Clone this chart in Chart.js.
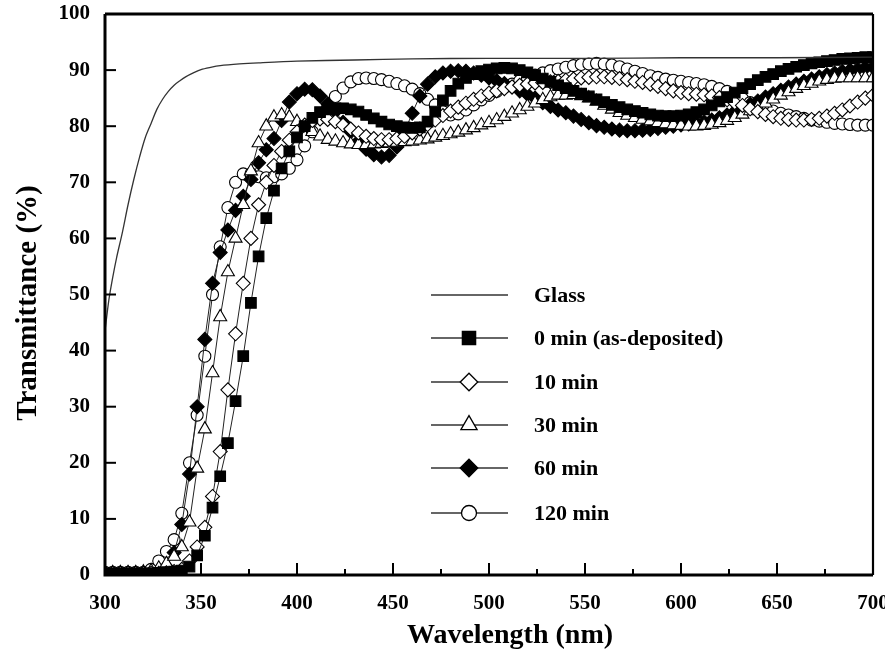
<!DOCTYPE html>
<html><head><meta charset="utf-8">
<script src="https://cdn.jsdelivr.net/npm/chart.js@4.4.1/dist/chart.umd.min.js"></script>
<style>html,body{margin:0;padding:0;background:#fff;overflow:hidden}#wrap{width:885px;height:657px}</style>
</head><body><div id="wrap"><canvas id="c" width="885" height="657"></canvas></div>
<script>
// ---------- data ----------
const seriesLabels = ['Glass', '0 min (as-deposited)', '10 min', '30 min', '60 min', '120 min'];
const xTickValues = [300, 350, 400, 450, 500, 550, 600, 650, 700];
const yTickValues = [0, 10, 20, 30, 40, 50, 60, 70, 80, 90, 100];

const glassWavelengths = [300,302,304,306,309,312,315,318,321,324,327,330,333,336,339,342,346,350,355,360,370,380,400,430,460,500,550,600,650,700];
const glassT = [43.5,49,53,56.5,61,66,70.5,74.5,78,80.5,83,84.8,86.2,87.3,88.1,88.8,89.5,90.1,90.5,90.8,91.1,91.3,91.6,91.8,92,92.1,92.1,92.2,92.2,92.3];

const wavelengths = [300,304,308,312,316,320,324,328,332,336,340,344,348,352,356,360,364,368,372,376,380,384,388,392,396,400,404,408,412,416,420,424,428,432,436,440,444,448,452,456,460,464,468,472,476,480,484,488,492,496,500,504,508,512,516,520,524,528,532,536,540,544,548,552,556,560,564,568,572,576,580,584,588,592,596,600,604,608,612,616,620,624,628,632,636,640,644,648,652,656,660,664,668,672,676,680,684,688,692,696,700];

const t0min = [0.3,0.3,0.3,0.3,0.3,0.3,0.3,0.4,0.5,0.6,
  0.8,1.5,3.5,7,12,17.6,23.5,31,39,48.5,
  56.8,63.6,68.5,72.5,75.5,78,80,81.5,82.5,83,
  83.2,83.2,83,82.6,82,81.4,80.8,80.3,80,79.8,
  79.7,79.8,80.8,82.6,84.6,86.3,87.6,88.6,89.3,89.8,
  90.1,90.3,90.4,90.3,90,89.6,89.1,88.5,87.9,87.3,
  86.8,86.3,85.8,85.3,84.8,84.3,83.8,83.4,83,82.7,
  82.4,82.1,81.9,81.8,81.8,81.9,82.1,82.5,83,83.7,
  84.4,85.2,86,86.8,87.5,88.2,88.8,89.3,89.8,90.2,
  90.6,90.9,91.2,91.4,91.6,91.8,92,92.1,92.2,92.3,
  92.3];
const t10min = [0.3,0.3,0.3,0.3,0.3,0.3,0.3,0.3,0.4,0.6,
  1,2.5,5,8.5,14,22,33,43,52,60,
  66,70,73,75.5,77.5,79,80.2,81,81.3,81.2,
  80.8,80.2,79.5,78.8,78.2,77.8,77.6,77.6,77.8,78.2,
  78.8,79.5,80.3,81.1,81.9,82.7,83.4,84.1,84.8,85.4,
  85.9,86.3,86.7,87,87.3,87.5,87.7,87.8,87.9,88,
  88.2,88.4,88.6,88.7,88.8,88.8,88.7,88.5,88.3,88,
  87.8,87.5,87.1,86.7,86.3,86,85.8,85.7,85.6,85.4,
  85.1,84.7,84.2,83.7,83.1,82.6,82.1,81.7,81.4,81.2,
  81.1,81.1,81.2,81.4,81.8,82.3,82.9,83.6,84.3,85,
  85.5];
const t30min = [0.4,0.4,0.4,0.4,0.4,0.5,0.7,1.2,2,3.3,
  5,9.4,19,26,36,46,54,60,66,72,
  77,80,81.6,82,81.6,80.8,79.9,79,78.2,77.6,
  77.3,77,76.8,76.7,76.7,76.8,76.9,77,77.1,77.2,
  77.3,77.5,77.7,78,78.3,78.6,78.9,79.3,79.7,80.2,
  80.6,81.1,81.7,82.3,82.9,83.5,84.1,84.7,85.2,85.5,
  85.5,85.6,85.4,85,84.4,83.7,83,82.4,81.9,81.5,
  81.2,80.9,80.6,80.4,80.2,80.1,80,80,80.1,80.3,
  80.6,81,81.5,82.1,82.7,83.4,84.1,84.8,85.5,86.1,
  86.7,87.2,87.6,88,88.3,88.5,88.6,88.6,88.6,88.6,
  88.6];
const t60min = [0.3,0.3,0.3,0.3,0.3,0.3,0.4,0.6,1.5,4,
  9,18,30,42,52,57.5,61.5,65,67.5,70.5,
  73.5,75.8,77.8,81,84.3,85.8,86.6,86.5,85.4,84,
  82.6,80.7,79,77.3,75.9,74.9,74.5,74.8,76.3,79,
  82.3,85.4,87.5,88.8,89.5,89.8,89.9,89.8,89.5,89.1,
  88.6,88.1,87.6,87,86.3,85.7,85,84.2,83.5,82.9,
  82.4,81.8,81.2,80.6,80.1,79.8,79.5,79.3,79.2,79.2,
  79.3,79.4,79.6,79.8,80,80.2,80.4,80.6,80.8,81.1,
  81.5,82,82.6,83.2,83.9,84.5,85.2,85.8,86.4,87,
  87.5,88,88.4,88.8,89.2,89.5,89.8,90,90.2,90.4,
  90.5];
const t120min = [0.5,0.5,0.5,0.5,0.5,0.5,1.0,2.5,4.2,6.3,
  11,20,28.5,39,50,58.5,65.5,70,71.5,71.5,
  71,70.8,71,71.5,72.5,74,76.5,79,81.5,83.5,
  85.3,86.8,87.9,88.5,88.6,88.5,88.3,88,87.6,87.2,
  86.6,85.8,84.8,83.8,82.6,82,82.2,82.9,83.8,84.7,
  85.5,86.2,86.9,87.5,88.1,88.6,89.1,89.5,89.9,90.2,
  90.5,90.8,91,91.1,91.2,91.1,90.9,90.6,90.2,89.8,
  89.4,89,88.7,88.4,88.2,88,87.8,87.6,87.4,87.1,
  86.7,86.2,85.6,84.9,84.2,83.6,83.1,82.7,82.3,82,
  81.7,81.4,81.1,80.9,80.7,80.5,80.4,80.3,80.2,80.2,
  80.2];

// ---------- styles ----------
const FONT = "'Liberation Serif','Times New Roman',serif";
const markerDefs = [
  {style: null},
  {style: 'rect', radius: 7.5, fill: '#000'},
  {style: 'rectRot', radius: 7, fill: '#fff'},
  {style: 'triangle', radius: 7.5, fill: '#fff'},
  {style: 'rectRot', radius: 7, fill: '#000'},
  {style: 'circle', radius: 6, fill: '#fff'}
];
const seriesValues = [t0min, t10min, t30min, t60min, t120min];

const datasets = [];
datasets.push({
  label: seriesLabels[0],
  data: glassWavelengths.map((w, i) => ({x: w, y: glassT[i]})),
  borderColor: '#333', borderWidth: 1.3, pointRadius: 0, tension: 0.3, fill: false
});
seriesValues.forEach((arr, k) => {
  const m = markerDefs[k + 1];
  datasets.push({
    label: seriesLabels[k + 1],
    data: wavelengths.map((w, i) => ({x: w, y: arr[i]})),
    borderColor: '#222', borderWidth: 1, fill: false, tension: 0,
    pointStyle: m.style, pointRadius: m.radius, pointBackgroundColor: m.fill,
    pointBorderColor: '#000', pointBorderWidth: 1.1
  });
});

function drawMarker(ctx, style, x, y, r, fill) {
  ctx.beginPath();
  if (style === 'rect') { const s = r * Math.SQRT1_2; ctx.rect(x - s, y - s, 2 * s, 2 * s); }
  else if (style === 'rectRot') { ctx.moveTo(x - r, y); ctx.lineTo(x, y - r); ctx.lineTo(x + r, y); ctx.lineTo(x, y + r); ctx.closePath(); }
  else if (style === 'triangle') {
    for (let i = 0; i < 3; i++) { const a = i * 2 * Math.PI / 3; const px = x + Math.sin(a) * r, py = y - Math.cos(a) * r; i ? ctx.lineTo(px, py) : ctx.moveTo(px, py); }
    ctx.closePath();
  } else if (style === 'circle') { ctx.arc(x, y, r, 0, Math.PI * 2); }
  ctx.fillStyle = fill; ctx.fill();
  ctx.lineWidth = 1.3; ctx.strokeStyle = '#000'; ctx.stroke();
}

const decorPlugin = {
  id: 'decor',
  afterDraw(chart) {
    const ctx = chart.ctx, a = chart.chartArea, xs = chart.scales.x, ys = chart.scales.y;
    ctx.save();
    ctx.strokeStyle = '#000';
    ctx.lineWidth = 3;
    ctx.beginPath(); ctx.moveTo(a.left, a.top); ctx.lineTo(a.left, a.bottom); ctx.lineTo(a.right, a.bottom); ctx.stroke();
    ctx.beginPath(); ctx.moveTo(a.left, a.top); ctx.lineTo(a.right, a.top); ctx.stroke();
    ctx.lineWidth = 2.2;
    ctx.beginPath(); ctx.moveTo(a.right, a.top); ctx.lineTo(a.right, a.bottom); ctx.stroke();
    ctx.lineWidth = 2;
    yTickValues.forEach(v => { const p = ys.getPixelForValue(v); ctx.beginPath(); ctx.moveTo(a.left, p); ctx.lineTo(a.left + 11, p); ctx.stroke(); });
    for (let v = 325; v < 700; v += 25) {
      const p = xs.getPixelForValue(v); const major = (v % 50 === 0);
      ctx.beginPath(); ctx.moveTo(p, a.bottom); ctx.lineTo(p, a.bottom - (major ? 12 : 6)); ctx.stroke();
    }
    ctx.fillStyle = '#000';
    ctx.textAlign = 'center'; ctx.textBaseline = 'middle';
    ctx.font = 'bold 28px ' + FONT;
    ctx.fillText('Wavelength (nm)', 510, 636);
    ctx.font = 'bold 29px ' + FONT;
    ctx.translate(29, 303); ctx.rotate(-Math.PI / 2);
    ctx.fillText('Transmittance (%)', 0, 0);
    ctx.setTransform(1, 0, 0, 1, 0, 0);
    const ly = [295, 338, 382, 425, 468, 513];
    ctx.font = 'bold 22px ' + FONT; ctx.textAlign = 'left'; ctx.textBaseline = 'middle';
    seriesLabels.forEach((lab, i) => {
      ctx.strokeStyle = '#333'; ctx.lineWidth = 1.3;
      ctx.beginPath(); ctx.moveTo(431, ly[i]); ctx.lineTo(508, ly[i]); ctx.stroke();
      const m = markerDefs[i];
      if (m.style) drawMarker(ctx, m.style, 469, ly[i], m.radius * 1.25, m.fill);
      ctx.fillStyle = '#000';
      ctx.fillText(lab, 534, ly[i] + 1);
    });
    ctx.restore();
  }
};

function zeroPad(s) { s.paddingLeft = 0; s.paddingRight = 0; s.paddingTop = 0; s.paddingBottom = 0; }

new Chart(document.getElementById('c'), {
  type: 'line',
  data: {datasets},
  plugins: [decorPlugin],
  options: {
    responsive: false, animation: false, devicePixelRatio: 1,
    layout: {autoPadding: false, padding: {left: 0, right: 12, top: 14, bottom: 0}},
    plugins: {legend: {display: false}, tooltip: {enabled: false}},
    scales: {
      x: {
        type: 'linear', min: 300, max: 700,
        afterBuildTicks: s => { s.ticks = xTickValues.map(v => ({value: v})); },
        afterFit: s => { s.height = 82; zeroPad(s); },
        grid: {display: false, drawTicks: false}, border: {display: false},
        ticks: {color: '#000', font: {family: FONT, weight: 'bold', size: 21}, padding: 16, maxRotation: 0}
      },
      y: {
        type: 'linear', min: 0, max: 100,
        afterBuildTicks: s => { s.ticks = yTickValues.map(v => ({value: v})); },
        afterFit: s => { s.width = 105; zeroPad(s); },
        grid: {display: false, drawTicks: false}, border: {display: false},
        ticks: {color: '#000', font: {family: FONT, weight: 'bold', size: 21}, padding: 15}
      }
    }
  }
});
</script></body></html>
